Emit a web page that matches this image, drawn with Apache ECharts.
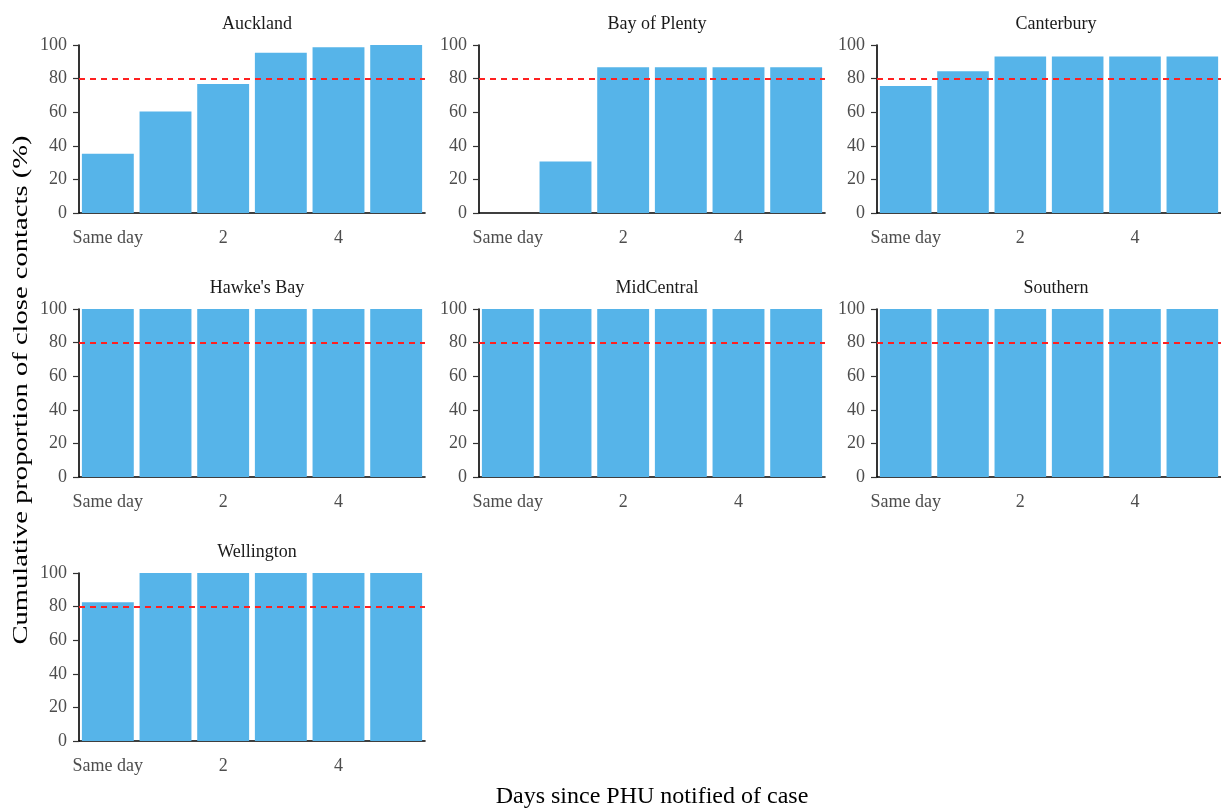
<!DOCTYPE html>
<html>
<head>
<meta charset="utf-8">
<script src="https://cdn.jsdelivr.net/npm/echarts@6/dist/echarts.min.js"></script>
<style>
  html, body { margin: 0; padding: 0; background: #fff; }
  #chart { width: 1221px; height: 812px; }
</style>
</head>
<body>
<div id="chart"></div>
<script>
// data
const days = ['Same day', '1', '2', '3', '4', '5']
const regions = ['Auckland', 'Bay of Plenty', 'Canterbury', "Hawke's Bay", 'MidCentral', 'Southern', 'Wellington']
const auckland = [35.3, 60.4, 76.8, 95.4, 98.7, 100]
const bayOfPlenty = [0, 30.7, 86.7, 86.7, 86.7, 86.7]
const canterbury = [75.6, 84.4, 93.1, 93.1, 93.1, 93.1]
const hawkesBay = [100, 100, 100, 100, 100, 100]
const midCentral = [100, 100, 100, 100, 100, 100]
const southern = [100, 100, 100, 100, 100, 100]
const wellington = [82.6, 100, 100, 100, 100, 100]
const yTicks = [0, 20, 40, 60, 80, 100]
const target = 80

const values = [auckland, bayOfPlenty, canterbury, hawkesBay, midCentral, southern, wellington]

const FONT = '"Liberation Serif", "DejaVu Serif", serif'
const colLeft = [79, 479, 877]
const colWidth = [346, 346, 348]
const rowTop = [45, 309, 573]
const plotH = 168

let grids = [], xAxes = [], yAxes = [], series = [], titles = []
values.forEach((vals, i) => {
  let c = i % 3, r = Math.floor(i / 3)
  grids.push({left: colLeft[c], top: rowTop[r], width: colWidth[c], height: plotH})
  titles.push({
    text: regions[i],
    left: colLeft[c] + colWidth[c] / 2,
    top: rowTop[r] - 35,
    textAlign: 'center',
    textStyle: {fontFamily: FONT, fontSize: 18, fontWeight: 'normal', color: '#1a1a1a'}
  })
  xAxes.push({
    type: 'category',
    gridIndex: i,
    data: days,
    axisLine: {lineStyle: {color: '#000', width: 1.6}},
    axisTick: {
      alignWithLabel: true,
      length: 5,
      interval: (idx) => idx % 2 === 0,
      lineStyle: {color: '#333', width: 1.2}
    },
    axisLabel: {
      interval: (idx) => idx % 2 === 0,
      margin: 16,
      fontFamily: FONT,
      fontSize: 18,
      color: '#4d4d4d'
    }
  })
  yAxes.push({
    type: 'value',
    gridIndex: i,
    min: 0,
    max: 100,
    interval: 20,
    splitLine: {show: false},
    axisLine: {show: true, lineStyle: {color: '#000', width: 1.6}},
    axisTick: {show: true, length: 6, lineStyle: {color: '#333', width: 1.2}},
    axisLabel: {
      margin: 12,
      fontFamily: FONT,
      fontSize: 18,
      color: '#4d4d4d',
      formatter: (v) => yTicks.includes(v) ? String(v) : ''
    }
  })
  series.push({
    type: 'bar',
    xAxisIndex: i,
    yAxisIndex: i,
    data: vals,
    barCategoryGap: '10%',
    itemStyle: {color: '#56B4E9'},
    animation: false,
    markLine: {
      silent: true,
      symbol: 'none',
      label: {show: false},
      lineStyle: {color: '#ff2020', type: [6, 5], width: 1.8},
      data: [{yAxis: target}]
    }
  })
})

const chart = echarts.init(document.getElementById('chart'))
chart.setOption({
  animation: false,
  backgroundColor: '#fff',
  title: titles,
  grid: grids,
  xAxis: xAxes,
  yAxis: yAxes,
  series: series,
  graphic: [
    {
      type: 'text',
      x: 21,
      y: 390,
      rotation: Math.PI / 2,
      scaleX: 1.3,
      style: {
        text: 'Cumulative proportion of close contacts (%)',
        fontFamily: FONT,
        fontSize: 22,
        fill: '#000',
        align: 'center',
        verticalAlign: 'middle'
      }
    },
    {
      type: 'text',
      x: 652,
      y: 797,
      style: {
        text: 'Days since PHU notified of case',
        fontFamily: FONT,
        fontSize: 24,
        fill: '#000',
        align: 'center',
        verticalAlign: 'middle'
      }
    }
  ]
})
</script>
</body>
</html>
